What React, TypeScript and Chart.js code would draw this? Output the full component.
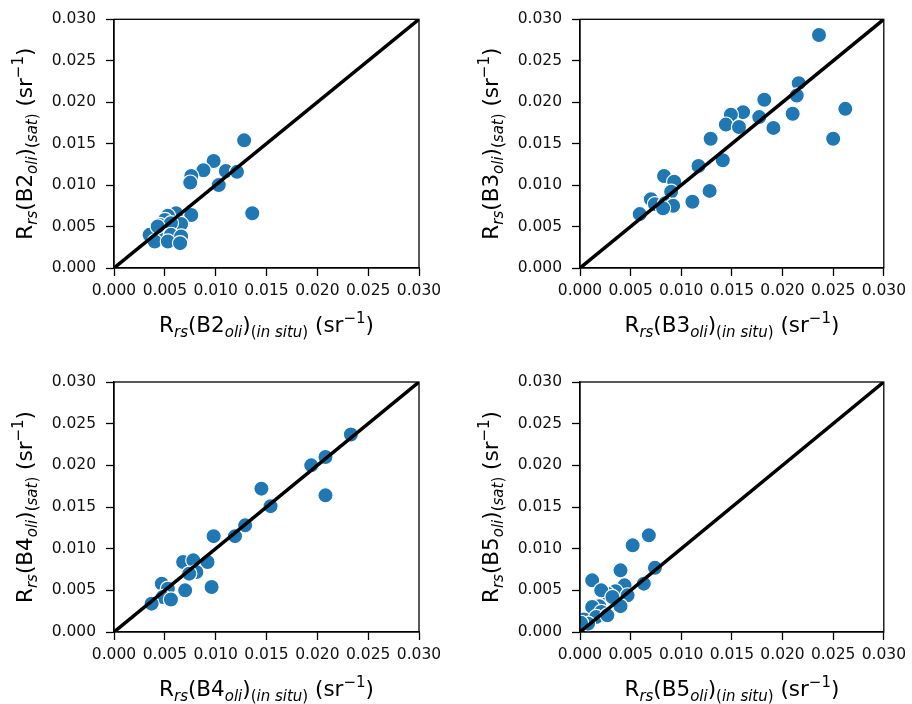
import React, { useEffect, useRef } from "react";
import { Chart, registerables } from "chart.js";

Chart.register(...registerables);

// ---------- data ----------
const bands = ["B2", "B3", "B4", "B5"];
const tickStep = 0.005;
const axisMin = 0;
const axisMax = 0.03;
const oneToOne = [0, 0.03];

const b2InSitu = [0.0128, 0.0136, 0.0098, 0.0088, 0.011, 0.0121, 0.0076, 0.0075, 0.0103, 0.0076, 0.0061, 0.0053, 0.005, 0.0066, 0.0045, 0.0056, 0.0035, 0.0047, 0.0056, 0.0066, 0.004, 0.0053, 0.0065, 0.0043];
const b2Sat = [0.0154, 0.0066, 0.0129, 0.0118, 0.0117, 0.0116, 0.0111, 0.0103, 0.01, 0.0064, 0.0066, 0.0063, 0.0058, 0.0053, 0.0052, 0.0054, 0.004, 0.0038, 0.004, 0.0038, 0.0032, 0.0032, 0.003, 0.005];

const b3InSitu = [0.0236, 0.0262, 0.025, 0.0216, 0.0214, 0.021, 0.0182, 0.0177, 0.0191, 0.0161, 0.0149, 0.0144, 0.0157, 0.0129, 0.0141, 0.0117, 0.0128, 0.0111, 0.0083, 0.0093, 0.009, 0.007, 0.0074, 0.0084, 0.0092, 0.0082, 0.0059];
const b3Sat = [0.0281, 0.0192, 0.0156, 0.0223, 0.0208, 0.0186, 0.0203, 0.0182, 0.0169, 0.0188, 0.0185, 0.0173, 0.017, 0.0156, 0.013, 0.0123, 0.0093, 0.008, 0.0111, 0.0104, 0.0092, 0.0083, 0.0077, 0.0078, 0.0075, 0.0072, 0.0065];

const b4InSitu = [0.0233, 0.0208, 0.0194, 0.0208, 0.0145, 0.0154, 0.0129, 0.0119, 0.0098, 0.0092, 0.0068, 0.0078, 0.0081, 0.0074, 0.0096, 0.007, 0.0047, 0.0053, 0.0048, 0.0056, 0.0037];
const b4Sat = [0.0237, 0.021, 0.02, 0.0164, 0.0172, 0.0151, 0.0128, 0.0115, 0.0115, 0.0084, 0.0084, 0.0086, 0.0072, 0.007, 0.0054, 0.005, 0.0058, 0.0052, 0.0042, 0.0039, 0.0034];

const b5InSitu = [0.0068, 0.0052, 0.0074, 0.004, 0.0012, 0.0063, 0.0044, 0.0035, 0.0027, 0.0021, 0.0047, 0.004, 0.0019, 0.0012, 0.0021, 0.0004, 0.0016, 0.0027, 0.0008, 0.0001, 0.0032];
const b5Sat = [0.0116, 0.0104, 0.0077, 0.0074, 0.0062, 0.0058, 0.0056, 0.0049, 0.0046, 0.005, 0.0044, 0.0031, 0.0031, 0.003, 0.0024, 0.0015, 0.0018, 0.002, 0.001, 0.0011, 0.0042];

const inSituSeries = [b2InSitu, b3InSitu, b4InSitu, b5InSitu];
const satSeries = [b2Sat, b3Sat, b4Sat, b5Sat];

// ---------- style / layout ----------
const FONT = '"DejaVu Sans", "Liberation Sans", sans-serif';
const BLUE = "#1f77b4";
const CW = 456;
const CH = 352;

const panels = [
  { left: 0, top: 0, L: 114, R: 419, T: 18, B: 268 },
  { left: 456, top: 0, L: 124, R: 432, T: 18, B: 268 },
  { left: 0, top: 352, L: 114, R: 419, T: 30, B: 280 },
  { left: 456, top: 352, L: 124, R: 432, T: 30, B: 280 },
];

type Seg = { t: string; size: number; dy: number; italic?: boolean };

function buildLabel(band: string, kind: string): Seg[] {
  const M = 21.5;
  const S = 15;
  const SUB = 5;
  return [
    { t: "R", size: M, dy: 0 },
    { t: "rs", size: S, dy: SUB, italic: true },
    { t: "(" + band, size: M, dy: 0 },
    { t: "oli", size: S, dy: SUB, italic: true },
    { t: ")", size: M, dy: 0 },
    { t: "(", size: S, dy: SUB },
    { t: kind, size: S, dy: SUB, italic: true },
    { t: ")", size: S, dy: SUB },
    { t: " (sr", size: M, dy: 0 },
    { t: "\u22121", size: S, dy: -9 },
    { t: ")", size: M, dy: 0 },
  ];
}

function fontOf(s: Seg) {
  return `${s.italic ? "italic " : ""}${s.size}px ${FONT}`;
}

function drawRich(ctx: CanvasRenderingContext2D, segs: Seg[], cx: number, baseY: number) {
  let total = 0;
  const widths = segs.map((s) => {
    ctx.font = fontOf(s);
    const w = ctx.measureText(s.t).width;
    total += w;
    return w;
  });
  let x = cx - total / 2;
  ctx.fillStyle = "#000";
  ctx.textAlign = "left";
  ctx.textBaseline = "alphabetic";
  segs.forEach((s, i) => {
    ctx.font = fontOf(s);
    ctx.fillText(s.t, x, baseY + s.dy);
    x += widths[i];
  });
}

function makeTitlePlugin(band: string) {
  return {
    id: "richTitles",
    afterDraw(chart: any) {
      const { ctx, chartArea } = chart;
      const a = chartArea;
      ctx.save();
      drawRich(ctx, buildLabel(band, "in situ"), (a.left + a.right) / 2, a.bottom + 64);
      ctx.translate(a.left - 82, (a.top + a.bottom) / 2);
      ctx.rotate(-Math.PI / 2);
      drawRich(ctx, buildLabel(band, "sat"), 0, 0);
      ctx.restore();
    },
  };
}

const boxPlugin = {
  id: "boxFrame",
  afterDatasetsDraw(chart: any) {
    const { ctx, chartArea: a } = chart;
    ctx.save();
    ctx.strokeStyle = "#000";
    ctx.lineWidth = 1.3;
    ctx.strokeRect(a.left, a.top, a.right - a.left, a.bottom - a.top);
    ctx.restore();
  },
};

function Panel({ idx }: { idx: number }) {
  const ref = useRef<HTMLCanvasElement | null>(null);
  const p = panels[idx];
  useEffect(() => {
    if (!ref.current) return;
    const xs = inSituSeries[idx];
    const ys = satSeries[idx];
    const pts = xs.map((x, i) => ({ x, y: ys[i] }));
    const tickCommon = {
      color: "#111",
      font: { family: FONT, size: 15.5 },
      stepSize: tickStep,
      callback: (v: any) => Number(v).toFixed(3),
    };
    const gridCommon = {
      display: true,
      drawOnChartArea: false,
      drawTicks: true,
      tickLength: 8,
      tickWidth: 1.3,
      tickColor: "#000",
    };
    const chart = new Chart(ref.current, {
      type: "scatter",
      data: {
        datasets: [
          {
            type: "line",
            data: [
              { x: oneToOne[0], y: oneToOne[0] },
              { x: oneToOne[1], y: oneToOne[1] },
            ],
            borderColor: "#000",
            borderWidth: 3.5,
            pointRadius: 0,
            showLine: true,
            order: 0,
            clip: 0,
          } as any,
          {
            data: pts,
            backgroundColor: BLUE,
            borderColor: "#ffffff",
            borderWidth: 1.2,
            pointRadius: 7.6,
            pointHoverRadius: 7.6,
            order: 1,
            clip: 0,
          } as any,
        ],
      },
      options: {
        animation: false,
        responsive: false,
        events: [],
        layout: { padding: { left: 0, top: p.T, right: CW - p.R, bottom: 0 } },
        plugins: { legend: { display: false }, tooltip: { enabled: false } },
        scales: {
          x: {
            type: "linear",
            min: axisMin,
            max: axisMax,
            ticks: { ...tickCommon, padding: 6, maxRotation: 0, autoSkip: false },
            grid: gridCommon,
            border: { display: true, color: "#000", width: 1.3 },
            afterFit: (s: any) => {
              s.height = CH - p.B;
            },
          } as any,
          y: {
            type: "linear",
            min: axisMin,
            max: axisMax,
            ticks: { ...tickCommon, padding: 10, autoSkip: false },
            grid: gridCommon,
            border: { display: true, color: "#000", width: 1.3 },
            afterFit: (s: any) => {
              s.width = p.L;
            },
          } as any,
        },
      },
      plugins: [makeTitlePlugin(bands[idx]), boxPlugin],
    } as any);
    return () => chart.destroy();
  }, [idx]);
  return (
    <canvas
      ref={ref}
      width={CW}
      height={CH}
      style={{ position: "absolute", left: p.left, top: p.top, width: CW, height: CH }}
    />
  );
}

export default function App() {
  return (
    <div
      style={{
        position: "fixed",
        left: 0,
        top: 0,
        width: 912,
        height: 704,
        background: "#ffffff",
        overflow: "hidden",
      }}
    >
      {bands.map((b, i) => (
        <Panel key={b} idx={i} />
      ))}
    </div>
  );
}
